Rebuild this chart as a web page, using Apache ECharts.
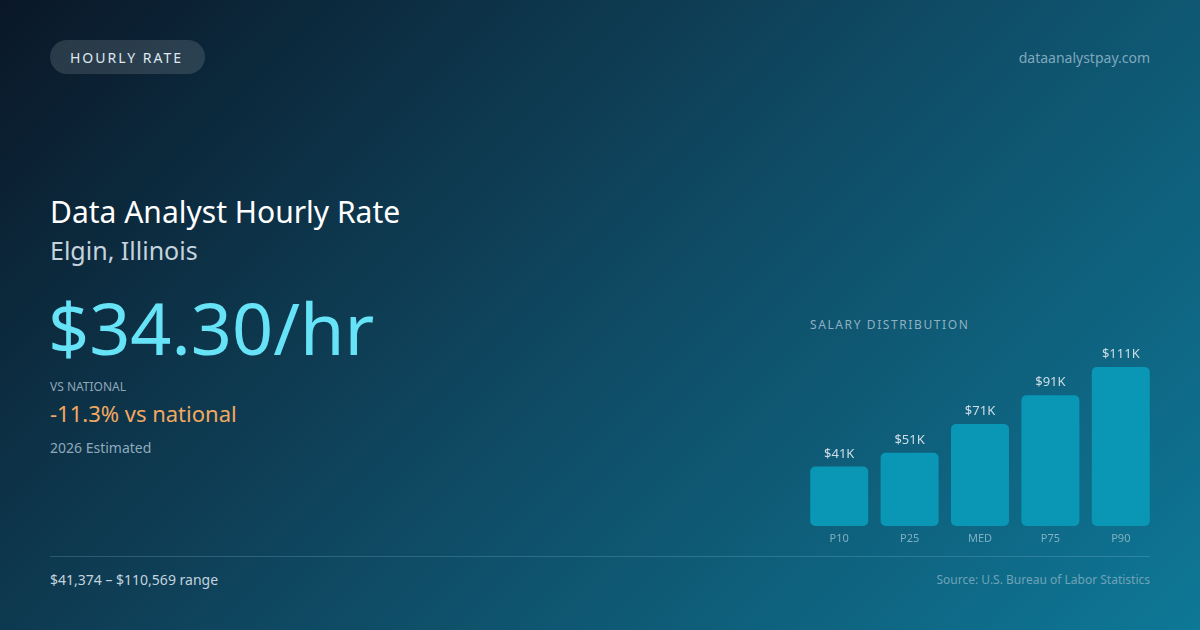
<!DOCTYPE html>
<html>
<head>
<meta charset="utf-8">
<script src="https://cdn.jsdelivr.net/npm/echarts@6/dist/echarts.min.js"></script>
<style>
  html, body { margin: 0; padding: 0; }
  body {
    width: 1200px; height: 630px; overflow: hidden; position: relative;
    background: linear-gradient(135deg, #0a1727 0%, #0f4760 48%, #0e7897 100%);
    font-family: "Noto Sans", sans-serif;
  }
  .t { position: absolute; line-height: 1; white-space: nowrap; }
  #chart { position: absolute; left: 0; top: 0; width: 1200px; height: 630px; }
  .pill {
    position: absolute; left: 50px; top: 40px; width: 155px; height: 34px;
    border-radius: 17px; background: rgba(255,255,255,0.13);
  }
  .rule {
    position: absolute; left: 50px; top: 556px; width: 1100px; height: 1px;
    background: rgba(150,210,230,0.22);
  }
</style>
</head>
<body>
<div class="pill"></div>
<div class="t" style="left:70px;top:51px;font-size:14px;letter-spacing:2px;color:#dfe8ef;">HOURLY RATE</div>
<div class="t" style="right:50px;top:51px;font-size:14px;color:#7fa8bd;">dataanalystpay.com</div>

<div class="t" style="left:50px;top:197px;font-size:30px;color:#ffffff;">Data Analyst Hourly Rate</div>
<div class="t" style="left:50px;top:238px;font-size:25px;color:#c4d3de;">Elgin, Illinois</div>
<div class="t" style="left:48px;top:291px;font-size:72px;color:#67e3f7;">$34.30/hr</div>
<div class="t" style="left:50px;top:381px;font-size:12px;color:#8fa7b8;">VS NATIONAL</div>
<div class="t" style="left:50px;top:402px;font-size:22px;color:#f2a860;">-11.3% vs national</div>
<div class="t" style="left:50px;top:441px;font-size:14px;color:#8fa9bb;">2026 Estimated</div>

<div class="t" style="left:810px;top:319px;font-size:12px;letter-spacing:1.6px;color:#8fb0c2;">SALARY DISTRIBUTION</div>

<div class="rule"></div>
<div class="t" style="left:50px;top:573px;font-size:14px;color:#c4d3de;">$41,374 – $110,569 range</div>
<div class="t" style="right:50px;top:574px;font-size:12px;color:#6fa3b8;">Source: U.S. Bureau of Labor Statistics</div>

<div id="chart"></div>
<script>
// salary percentiles, thousands of dollars
var categories = ['P10', 'P25', 'MED', 'P75', 'P90'];
var salaryK = [41.4, 51, 71, 91, 110.6];

var myChart = echarts.init(document.getElementById('chart'));
myChart.setOption({
    backgroundColor: 'transparent',
    animation: false,
    grid: { left: 804, right: 44, top: 367, bottom: 104 },
    xAxis: {
        type: 'category',
        data: categories,
        axisLine: { show: false },
        axisTick: { show: false },
        axisLabel: {
            color: '#7fb0c4',
            fontSize: 11,
            fontFamily: 'Noto Sans',
            margin: 7
        }
    },
    yAxis: {
        type: 'value',
        min: 0,
        max: 110.6,
        show: false,
        splitLine: { show: false }
    },
    series: [
        {
            type: 'bar',
            data: salaryK,
            barWidth: 58,
            itemStyle: {
                color: '#0a97b6',
                borderRadius: 5
            },
            label: {
                show: true,
                position: 'top',
                distance: 6,
                color: '#cfdde6',
                fontSize: 13,
                fontFamily: 'Noto Sans',
                formatter: function (p) { return '$' + Math.round(p.value) + 'K'; }
            }
        }
    ]
});
</script>
</body>
</html>
